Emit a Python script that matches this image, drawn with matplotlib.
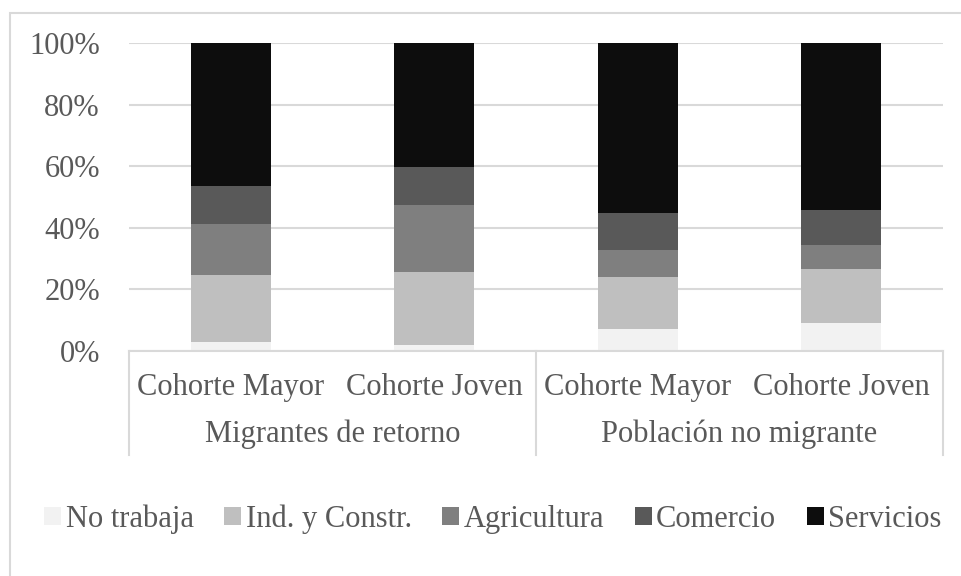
import matplotlib
matplotlib.use("Agg")
import matplotlib.pyplot as plt
import matplotlib.transforms as mtransforms
from matplotlib.patches import Patch, Rectangle
import numpy as np

plt.rcParams['font.family'] = ['Liberation Serif', 'DejaVu Serif']

cohorts = ["Cohorte Mayor", "Cohorte Joven", "Cohorte Mayor", "Cohorte Joven"]
groups = ["Migrantes de retorno", "Población no migrante"]
series_names = ["No trabaja", "Ind. y Constr.", "Agricultura", "Comercio", "Servicios"]
no_trabaja = [2.9, 2.1, 7.3, 9.1]
ind_constr = [21.8, 23.5, 16.7, 17.4]
agricultura = [16.5, 21.8, 8.7, 7.8]
comercio = [12.5, 12.3, 12.1, 11.5]
servicios = [46.3, 40.3, 55.2, 54.2]
colors = ["#f2f2f2", "#bfbfbf", "#7f7f7f", "#595959", "#0d0d0d"]
yticks = [0, 20, 40, 60, 80, 100]
ytick_labels = ["0%", "20%", "40%", "60%", "80%", "100%"]

text_color = "#595959"
grid_color = "#d9d9d9"
fs = 22

W, H = 961, 576
fig = plt.figure(figsize=(W / 100, H / 100), dpi=100)
# outer chart border
fig.patches.append(Rectangle((10 / W, -0.01), 1.02, (576 - 13) / H + 0.01,
                             transform=fig.transFigure, fill=False,
                             edgecolor=grid_color, linewidth=1.5))

ax = fig.add_axes([129 / W, (H - 351) / H, (943 - 129) / W, (351 - 43.3) / H])

data = [no_trabaja, ind_constr, agricultura, comercio, servicios]
x = np.arange(len(cohorts))
bottom = np.zeros(len(cohorts))
for vals, col, name in zip(data, colors, series_names):
    vals = np.array(vals)
    ax.bar(x, vals, bottom=bottom, width=0.393, color=col, linewidth=0, label=name, zorder=3)
    bottom += vals

ax.set_xlim(-0.5, 3.5)
ax.set_ylim(0, 100)
ax.set_yticks(yticks)
ax.set_yticklabels(ytick_labels, fontsize=fs, color=text_color)
ax.tick_params(axis='y', length=0, pad=21)
ax.set_xticks([])
ax.yaxis.grid(True, color=grid_color, linewidth=1.5, zorder=0)
ax.set_axisbelow(True)
for s in ["top", "right", "left"]:
    ax.spines[s].set_visible(False)
ax.spines["bottom"].set_color(grid_color)
ax.spines["bottom"].set_linewidth(1.5)
ax.spines["bottom"].set_zorder(5)

trans = mtransforms.blended_transform_factory(ax.transData, fig.transFigure)
y_axis = (H - 351) / H
y_low = (H - 455) / H
for xs in [-0.5, 1.5, 3.5]:
    ax.plot([xs, xs], [y_axis, y_low], transform=trans, color=grid_color,
            linewidth=1.5, clip_on=False)

for xi, lab in zip(x, cohorts):
    ax.text(xi, (H - 395) / H, lab, transform=trans, ha='center', va='baseline',
            fontsize=fs, color=text_color)
for gi, g in enumerate(groups):
    ax.text(2 * gi + 0.5, (H - 442) / H, g, transform=trans, ha='center', va='baseline',
            fontsize=fs, color=text_color)

handles = [Patch(facecolor=c, edgecolor='none') for c in colors]
fig.legend(handles, series_names, loc='center', bbox_to_anchor=(493 / W, (H - 519) / H),
           ncol=5, frameon=False, fontsize=fs, labelcolor=text_color,
           handlelength=0.55, handleheight=0.55, handletextpad=0.15,
           columnspacing=1.0, borderaxespad=0)

fig.savefig("out.png", dpi=100)
